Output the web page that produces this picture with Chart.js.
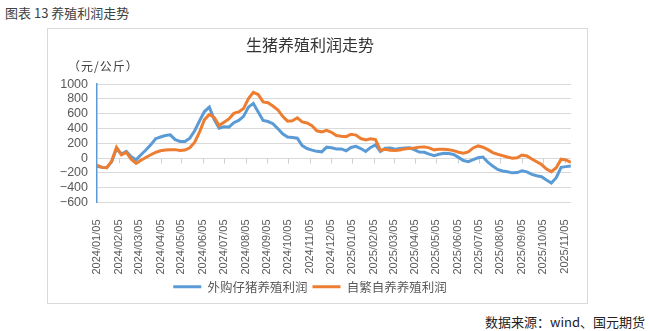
<!DOCTYPE html>
<html>
<head>
<meta charset="utf-8">
<script src="https://cdn.jsdelivr.net/npm/chart.js@4/dist/chart.umd.min.js"></script>
<style>
    body { margin: 0; width: 649px; height: 331px; background: #fff; position: relative; overflow: hidden;
           font-family: "Noto Sans CJK SC", "Noto Sans", sans-serif; }
    #head { position: absolute; left: 5px; top: 3px; font-size: 13px; color: #404040; }
    #box { position: absolute; left: 47px; top: 28px; width: 539px; height: 274px; border: 1px solid #d9d9d9; }
    #unit { position: absolute; left: 68px; top: 57px; font-size: 12px; color: #404040; letter-spacing: 1px; }
    #src { position: absolute; right: 4px; top: 312px; font-size: 13px; color: #222; }
    #wrap { position: absolute; left: 47px; top: 28px; width: 540px; height: 275px; }
</style>
</head>
<body>
<div id="head">图表 13 养殖利润走势</div>
<div id="box"></div>
<div id="wrap"><canvas id="profitChart"></canvas></div>
<div id="unit">（元/公斤）</div>
<div id="src">数据来源：wind、国元期货</div>
<script>
// Данные: недельные значения начиная с 2024/01/05
const startDate = "2024/01/05";
const monthTicks = [
    "2024/01/05", "2024/02/05", "2024/03/05", "2024/04/05", "2024/05/05", "2024/06/05",
    "2024/07/05", "2024/08/05", "2024/09/05", "2024/10/05", "2024/11/05", "2024/12/05",
    "2025/01/05", "2025/02/05", "2025/03/05", "2025/04/05", "2025/05/05", "2025/06/05",
    "2025/07/05", "2025/08/05", "2025/09/05", "2025/10/05", "2025/11/05"
];
const yTicks = [-600, -400, -200, 0, 200, 400, 600, 800, 1000];
// 外购仔猪养殖利润
const purchasedPiglet = [
    -110, -125, -130, -50, 130, 55, 90, 18, -23, 46,
    110, 180, 263, 286, 305, 315, 250, 226, 226, 270,
    370, 505, 630, 690, 520, 405, 425, 420, 480, 510,
    565, 690, 740, 625, 510, 495, 465, 400, 330, 285,
    280, 270, 170, 130, 108, 92, 85, 148, 140, 125,
    125, 100, 145, 160, 130, 90, 145, 180, 90, 135,
    137, 122, 130, 138, 139, 112, 82, 80, 55, 33,
    52, 65, 62, 50, 10, -32, -48, -20, 5, 15,
    -55, -108, -152, -173, -185, -199, -195, -171, -185, -219,
    -238, -252, -296, -337, -265, -125, -115, -106
];
// 自繁自养养殖利润
const selfBred = [
    -95, -125, -130, -40, 145, 45, 78, -14, -70, -28,
    9, 46, 78, 100, 110, 115, 115, 105, 110, 140,
    215, 355, 520, 590, 550, 440, 485, 530, 605, 625,
    670, 805, 890, 860, 760, 750, 705, 655, 565, 500,
    505, 545, 490, 475, 440, 370, 355, 375, 350, 305,
    295, 290, 323, 312, 265, 245, 263, 250, 105, 120,
    106, 103, 111, 125, 132, 137, 149, 152, 139, 112,
    120, 119, 114, 102, 80, 67, 84, 138, 165, 148,
    115, 75, 53, 34, 15, 0, 5, 43, 30, -12,
    -48, -87, -148, -183, -130, -14, -24, -58
];

const DAY = 86400000;
const t0 = new Date(startDate).getTime();
const dayOffset = (s) => Math.round((new Date(s).getTime() - t0) / DAY);

// Даты недель
const weekDates = [];
for (let i = 0; i < purchasedPiglet.length; i++) {
    const d = new Date(t0 + i * 7 * DAY);
    weekDates.push(`${d.getFullYear()}/${String(d.getMonth() + 1).padStart(2, "0")}/${String(d.getDate()).padStart(2, "0")}`);
}
const toPoints = (vals) => vals.map((v, i) => ({ x: dayOffset(weekDates[i]), y: v }));
const tickLabel = {};
monthTicks.forEach((s) => (tickLabel[dayOffset(s)] = s));

// Засечки на нулевой линии
const zeroTicks = {
    id: "zeroTicks",
    beforeDatasetsDraw(chart) {
        const { ctx, scales: { x, y } } = chart;
        const y0 = Math.round(y.getPixelForValue(0)) + 0.5;
        ctx.save();
        ctx.strokeStyle = "#cfcfcf";
        ctx.lineWidth = 1;
        ctx.beginPath();
        x.ticks.forEach((t) => {
            const px = Math.round(x.getPixelForValue(t.value)) + 0.5;
            ctx.moveTo(px, y0);
            ctx.lineTo(px, y0 + 5);
        });
        ctx.stroke();
        ctx.restore();
    },
};

Chart.defaults.font.family = '"Liberation Sans", Arial, sans-serif';

new Chart(document.getElementById("profitChart"), {
    type: "line",
    data: {
        datasets: [
            {
                label: "外购仔猪养殖利润",
                data: toPoints(purchasedPiglet),
                borderColor: "#5B9BD5",
                backgroundColor: "#5B9BD5",
                borderWidth: 3,
                pointRadius: 0,
                tension: 0,
                order: 1,
            },
            {
                label: "自繁自养养殖利润",
                data: toPoints(selfBred),
                borderColor: "#ED7D31",
                backgroundColor: "#ED7D31",
                borderWidth: 3,
                pointRadius: 0,
                tension: 0,
                order: 0,
            },
        ],
    },
    options: {
        responsive: true,
        maintainAspectRatio: false,
        animation: false,
        layout: { padding: { left: 0, right: 14, top: 0, bottom: 0 } },
        plugins: {
            title: {
                display: true,
                text: "生猪养殖利润走势",
                color: "#333",
                font: { family: '"Noto Sans CJK SC", sans-serif', size: 16, weight: "normal" },
                padding: { top: 7, bottom: 30 },
            },
            legend: {
                position: "bottom",
                labels: {
                    usePointStyle: true,
                    pointStyle: "line",
                    pointStyleWidth: 28,
                    color: "#595959",
                    padding: 5,
                    font: { family: '"Noto Sans CJK SC", sans-serif', size: 12.5 },
                    sort: (a, b) => a.datasetIndex - b.datasetIndex,
                },
            },
            tooltip: { enabled: false },
        },
        scales: {
            x: {
                type: "linear",
                min: 0,
                max: dayOffset(weekDates[weekDates.length - 1]),
                grid: { display: false },
                border: { display: false },
                afterBuildTicks: (axis) => {
                    axis.ticks = monthTicks.map((s) => ({ value: dayOffset(s) }));
                },
                afterFit: (scale) => { scale.height = 73; },
                ticks: {
                    autoSkip: false,
                    maxRotation: 90,
                    minRotation: 90,
                    padding: 9,
                    color: "#595959",
                    font: { size: 11 },
                    callback: (v) => tickLabel[v] || "",
                },
            },
            y: {
                min: -600,
                max: 1000,
                afterFit: (scale) => { scale.width = 50; },
                afterBuildTicks: (axis) => {
                    axis.ticks = yTicks.map((v) => ({ value: v }));
                },
                grid: { color: "#d9d9d9", drawTicks: false },
                border: { color: "#5B9BD5", width: 1.5 },
                ticks: {
                    autoSkip: false,
                    padding: 9,
                    color: "#595959",
                    font: { size: 12.5 },
                    callback: (v) => String(v).replace("-", "\u2212"),
                },
            },
        },
    },
    plugins: [zeroTicks],
});
</script>
</body>
</html>
